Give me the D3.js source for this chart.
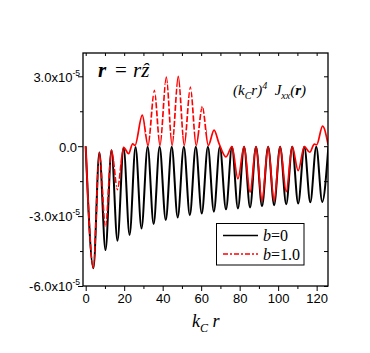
<!DOCTYPE html>
<html><head><meta charset="utf-8">
<script src="https://cdn.jsdelivr.net/npm/d3@7"></script>
<style>body{margin:0;background:#fff} svg{display:block}</style>
</head><body>
<script>
// ---- data (values in units of 1e-5) ----
const xTickValues = [0, 20, 40, 60, 80, 100, 120];
const xMinorTicks = [10, 30, 50, 70, 90, 110];
const yTickValues = [-6e-5, -3e-5, 0, 3e-5];
const yTickMantissa = ["-6.0x10", "-3.0x10", "0.0", "3.0x10"];
const yTickExponent = ["-5", "-5", "", "-5"];
const yMinorTicks = [-4.5e-5, -1.5e-5, 1.5e-5];
const seriesNames = ["b=0", "b=1.0"];

// b = 0 (black)
const rB = [0, 4.0, 7.1, 10.3, 13.4, 16.5, 19.7, 22.8, 25.9, 29.0, 32.2, 35.3, 38.4, 41.6, 44.7, 47.8, 51.0, 54.1, 57.2, 60.3, 63.5, 66.6, 69.7, 72.9, 76.0, 79.1, 82.3, 85.4, 88.5, 91.6, 94.8, 97.9, 101.0, 104.2, 107.3, 110.4, 113.6, 116.7, 119.8, 122.9, 126.1];
const jB = [0, -5.24, -0.27, -4.46, -0.17, -4.06, -0.07, -3.81, -0.03, -3.53, -0.02, -3.34, -0.02, -3.17, -0.02, -3.06, -0.02, -2.96, -0.02, -2.89, -0.02, -2.81, -0.02, -2.71, -0.02, -2.67, -0.02, -2.63, -0.02, -2.57, -0.02, -2.53, -0.02, -2.49, -0.02, -2.46, -0.02, -2.41, -0.02, -2.39, -0.02];

// b = 1.0 (red)
const rR = [0, 4.0, 7.1, 10.3, 13.4, 16.5, 19.7, 22.3, 24.4, 25.6, 29.4, 32.4, 35.7, 38.6, 41.9, 44.9, 48.1, 51.2, 54.4, 57.4, 60.6, 63.7, 66.7, 69.3, 72.9, 76.0, 79.1, 82.3, 85.4, 88.5, 91.6, 94.8, 97.9, 101.0, 104.2, 107.3, 110.4, 113.6, 116.4, 118.8, 120.0, 123.1, 126.0];
const jR = [0, -5.22, -0.27, -3.49, -0.17, -1.86, -0.05, -0.32, 0.10, 0.03, 1.33, 0.03, 2.40, 0.03, 2.97, 0.03, 3.00, 0.03, 2.54, 0.03, 1.71, 0.03, 0.69, 0.11, -0.46, -0.02, -1.40, -0.02, -1.97, -0.02, -2.35, -0.02, -2.35, -0.02, -1.95, -0.02, -1.05, -0.02, -0.26, 0.09, 0.06, 0.86, 0.04];

// ---- layout ----
const W = 370, H = 353;
const L = 83, R = 328, T = 53, B = 286;
const svg = d3.select("body").append("svg").attr("width", W).attr("height", H);
const x = d3.scaleLinear().domain([-1.4, 125.9]).range([L, R]);
const y = d3.scaleLinear().domain([-6e-5, 4e-5]).range([B, T]);
const SCALE = 1e-5;

const line = d3.line().x(d => x(d[0])).y(d => y(d[1] * SCALE)).curve(d3.curveMonotoneX);
const blackData = rB.map((r, i) => [r, jB[i]]);
const redData = rR.map((r, i) => [r, jR[i]]);
const redD = line(redData);

const defs = svg.append("defs");
defs.append("clipPath").attr("id", "plotClip").append("rect")
  .attr("x", L).attr("y", T).attr("width", R - L).attr("height", B - T);

// regions where the red curve shows dash gaps (steep flanks)
const gapRegions = [{r0: 1.5, r1: 18, v0: -4.9, v1: -0.6}, {r0: 31, r1: 62.5, v0: 0.45, v1: 2.7}];
const gc = defs.append("clipPath").attr("id", "gapClip");
gapRegions.forEach(g => gc.append("rect")
  .attr("x", x(g.r0)).attr("y", y(g.v1 * SCALE))
  .attr("width", x(g.r1) - x(g.r0)).attr("height", y(g.v0 * SCALE) - y(g.v1 * SCALE)));
const mask = defs.append("mask").attr("id", "gapMask").attr("maskUnits", "userSpaceOnUse")
  .attr("x", 0).attr("y", 0).attr("width", W).attr("height", H);
mask.append("rect").attr("width", W).attr("height", H).attr("fill", "white");
mask.append("path").attr("d", redD).attr("fill", "none").attr("stroke", "black")
  .attr("stroke-width", 4).attr("stroke-dasharray", "2,6").attr("clip-path", "url(#gapClip)");

const plot = svg.append("g").attr("clip-path", "url(#plotClip)");
plot.append("path").attr("d", line(blackData)).attr("fill", "none")
  .attr("stroke", "#000").attr("stroke-width", 2);
plot.append("g").attr("mask", "url(#gapMask)").append("path").attr("d", redD).attr("fill", "none")
  .attr("stroke", "#ff0000").attr("stroke-width", 1.7);

// ---- axes ----
const font = "'Liberation Sans', Arial, sans-serif";
const serif = "'Liberation Serif', 'Times New Roman', serif";

function styleAxis(g) {
  g.select(".domain").remove();
  g.selectAll("line").attr("stroke", "#000").attr("stroke-width", 1);
}
// bottom
svg.append("g").attr("transform", `translate(0,${B})`)
  .call(d3.axisBottom(x).tickValues(xTickValues).tickSize(5).tickPadding(3).tickFormat(d3.format("d")))
  .call(styleAxis)
  .selectAll("text").attr("font-family", font).attr("font-size", 13).attr("fill", "#000");
svg.append("g").attr("transform", `translate(0,${B})`)
  .call(d3.axisBottom(x).tickValues(xMinorTicks).tickSize(3).tickFormat(""))
  .call(styleAxis);
// top (inward)
svg.append("g").attr("transform", `translate(0,${T})`)
  .call(d3.axisTop(x).tickValues(xTickValues.concat(xMinorTicks)).tickSize(-3).tickFormat(""))
  .call(styleAxis);
// left
const yAx = svg.append("g").attr("transform", `translate(${L},0)`)
  .call(d3.axisLeft(y).tickValues(yTickValues).tickSize(5).tickPadding(2).tickFormat(""))
  .call(styleAxis);
yAx.selectAll(".tick text").each(function(d, i) {
  const t = d3.select(this);
  t.attr("font-family", font).attr("font-size", 13).attr("fill", "#000")
    .attr("x", yTickExponent[i] ? -3 : -6).attr("dy", "0.37em");
  t.append("tspan").text(yTickMantissa[i]);
  if (yTickExponent[i]) t.append("tspan").attr("dy", -6).attr("font-size", 8.5).text(yTickExponent[i]);
});
svg.append("g").attr("transform", `translate(${L},0)`)
  .call(d3.axisLeft(y).tickValues(yMinorTicks).tickSize(3).tickFormat(""))
  .call(styleAxis);
// right (inward)
svg.append("g").attr("transform", `translate(${R},0)`)
  .call(d3.axisRight(y).tickValues(yTickValues.concat(yMinorTicks)).tickSize(-4).tickFormat(""))
  .call(styleAxis);

// frame
svg.append("rect").attr("x", L).attr("y", T).attr("width", R - L).attr("height", B - T)
  .attr("fill", "none").attr("stroke", "#000").attr("stroke-width", 1.3);

// x axis title: k_C r
const xt = svg.append("text").attr("x", 192).attr("y", 327)
  .attr("font-family", serif).attr("font-style", "italic").attr("font-size", 18).attr("fill", "#000");
xt.append("tspan").text("k");
xt.append("tspan").attr("dy", 5).attr("font-size", 12).text("C");
xt.append("tspan").attr("dy", -5).text(" r");

// r = r z-hat
const rt = svg.append("text").attr("y", 77).attr("font-family", serif).attr("font-size", 21).attr("fill", "#000");
rt.append("tspan").attr("x", 98).attr("font-weight", "bold").attr("font-style", "italic").text("r");
rt.append("tspan").attr("x", 115).text("=");
rt.append("tspan").attr("x", 133).attr("font-style", "italic").text("rẑ");

// (k_C r)^4 J_xx(r)
const jt = svg.append("text").attr("x", 233).attr("y", 95).attr("font-family", serif)
  .attr("font-style", "italic").attr("font-size", 15).attr("fill", "#000");
jt.append("tspan").text("(k");
jt.append("tspan").attr("dy", 4).attr("font-size", 10).text("C");
jt.append("tspan").attr("dy", -4).text("r)");
jt.append("tspan").attr("dy", -6).attr("font-size", 10).text("4");
jt.append("tspan").attr("dy", 6).text("\u00A0 J");
jt.append("tspan").attr("dy", 4).attr("font-size", 10).text("xx");
jt.append("tspan").attr("dy", -4).text("(");
jt.append("tspan").attr("font-weight", "bold").text("r");
jt.append("tspan").text(")");

// legend
const lg = svg.append("g");
lg.append("rect").attr("x", 216.5).attr("y", 223.5).attr("width", 87.5).attr("height", 41.5)
  .attr("fill", "#fff").attr("stroke", "#000").attr("stroke-width", 1);
const legendStyles = [{color: "#000", dash: null, w: 1.5, ly: 235.5, ty: 241}, {color: "#ff0000", dash: "5,2,2,2", w: 1.5, ly: 254, ty: 260}];
seriesNames.forEach((name, i) => {
  const s = legendStyles[i];
  lg.append("line").attr("x1", 223).attr("x2", 258).attr("y1", s.ly).attr("y2", s.ly)
    .attr("stroke", s.color).attr("stroke-width", s.w).attr("stroke-dasharray", s.dash);
  const t = lg.append("text").attr("x", 263).attr("y", s.ty).attr("font-family", serif)
    .attr("font-size", 16).attr("fill", "#000");
  const parts = name.split("=");
  t.append("tspan").attr("font-style", "italic").text(parts[0]);
  t.append("tspan").text("=" + parts[1]);
});
</script>
</body></html>
